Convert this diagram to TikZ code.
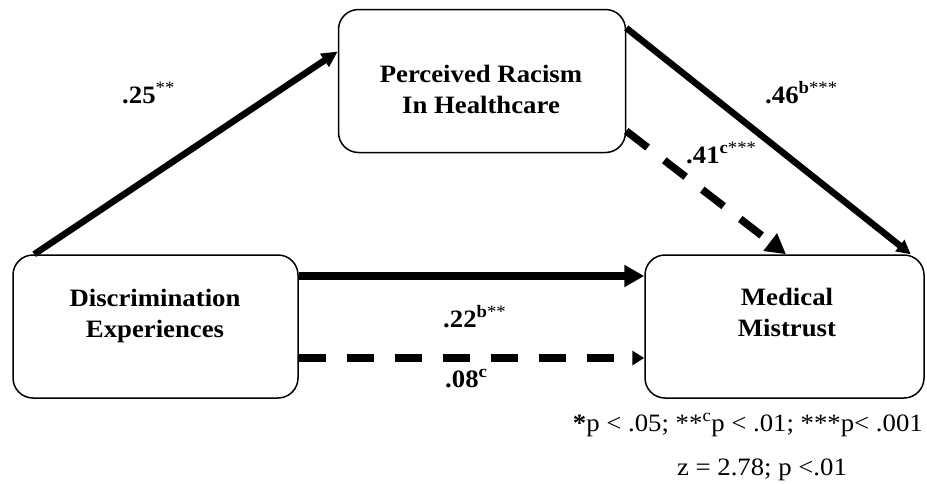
\documentclass[tikz,border=0pt]{standalone}
\usepackage{fontspec}
\setmainfont{Liberation Serif}[FakeStretch=1.07]
\usetikzlibrary{positioning, arrows.meta}

\tikzset{
  varbox/.style={draw, line width=1.5pt, rounded corners=20pt, minimum width=285pt, minimum height=143pt},
  vartext/.style={font=\fontsize{25}{31}\selectfont\bfseries, align=center, inner sep=0pt},
  coef/.style={font=\fontsize{25}{30}\selectfont\bfseries, inner sep=0pt, anchor=base west},
  note/.style={font=\fontsize{25}{30}\selectfont, inner sep=0pt},
  solidpath/.style={line width=6.5pt},
  dashpath/.style={line width=7.5pt, dash pattern=on 27pt off 21pt},
}

\begin{document}
\begin{tikzpicture}[x=1pt, y=-1pt]
\useasboundingbox (0,0) rectangle (927,483);

% boxes
\node [varbox, minimum width=287pt] (racism) at (482, 81) {};
\node [varbox] (disc) at (155.5, 326.5) {};
\node [varbox, minimum width=279pt] (mistrust) at (784.5, 326.5) {};

\node [vartext] (racismtext) at (481, 89) {Perceived Racism\\In Healthcare};
\node [vartext] (disctext) at (155, 316) {Discrimination\\Experiences};
\node [vartext] (mistrusttext) at (787, 312.5) {Medical\\Mistrust};

% paths a, b
\draw [solidpath, -{Triangle[length=16pt, width=15pt]}] ([xshift=22pt]disc.north west) -- ([yshift=29.5pt]racism.west);
\draw [solidpath, -{Triangle[length=14pt, width=14pt]}] ([yshift=53pt]racism.east) -- ([xshift=-14pt]mistrust.north east);
\draw [dashpath, -{Triangle[length=20pt, width=21pt]}] ([yshift=-50pt]racism.east) -- ([xshift=1.5pt]mistrust.north);

% direct paths
\draw [solidpath, line width=7.5pt, -{Triangle[length=20pt, width=21pt]}] ([yshift=50.5pt]disc.east) -- ([yshift=50.5pt]mistrust.west);
\draw [dashpath, -{Triangle[length=12pt, width=14pt]}] ([yshift=-31.5pt]disc.east) -- ([yshift=-31.5pt]mistrust.west);

% coefficients
\node [coef] (c25) at (122, 103) {.25\textsuperscript{\mdseries **}};
\node [coef] (c46) at (765, 103) {.46\textsuperscript{b\mdseries ***}};
\node [coef] (c41) at (686, 163) {.41\textsuperscript{c\mdseries ***}};
\node [coef] (c22) at (443, 327) {.22\textsuperscript{b\mdseries **}};
\node [coef] (c08) at (445, 387) {.08\textsuperscript{c}};

% significance
\node [note, anchor=base east] (sig) at (923, 431) {\textbf{*}p < .05; **\textsuperscript{c}p < .01; ***p< .001};
\node [note, anchor=base] (ztest) at (762, 475) {z = 2.78; p <.01};

\end{tikzpicture}
\end{document}
